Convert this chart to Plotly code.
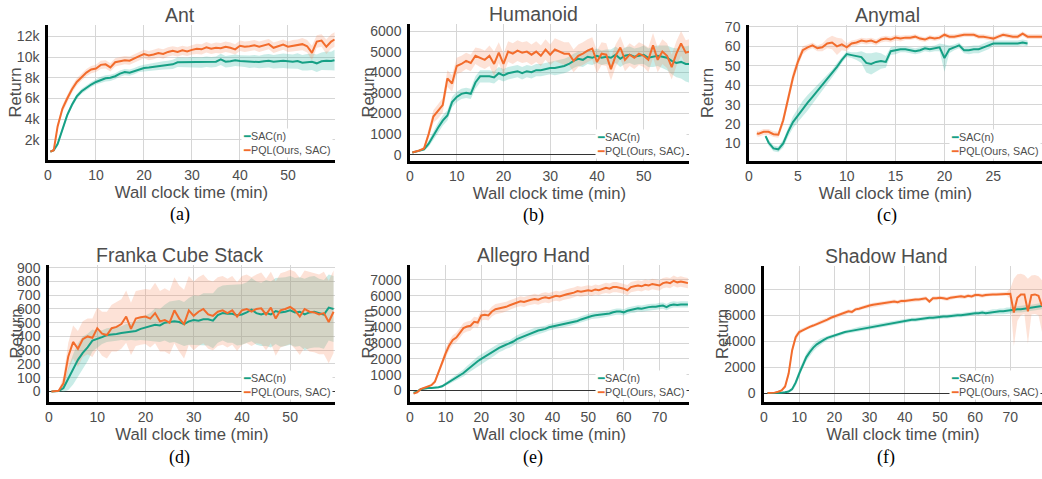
import plotly.graph_objects as go

W, H = 1042, 479
SAC_COLOR = '#16a085'
PQL_COLOR = '#f26c2c'
SAC_FILL = 'rgba(40,178,158,0.25)'
PQL_FILL = 'rgba(248,140,95,0.25)'
TEXT = '#4d4d4d'
FONT = 'Liberation Sans, Arial, sans-serif'

series_names = ['SAC(n)', 'PQL(Ours, SAC)']
panel_titles = ['Ant', 'Humanoid', 'Anymal', 'Franka Cube Stack', 'Allegro Hand', 'Shadow Hand']
captions = ['(a)', '(b)', '(c)', '(d)', '(e)', '(f)']

# ---- Ant ----
ant_t = [0.5, 1.2, 2, 3, 4, 5, 6, 7, 8, 9, 10,
         11, 12, 13, 14, 15, 16, 17, 18, 19, 20,
         21, 22, 23, 24, 25, 26, 27, 28, 29, 30,
         31, 32, 33, 34, 35, 36, 37, 38, 39, 40,
         41, 42, 43, 44, 45, 46, 47, 48, 49, 50,
         51, 52, 53, 54, 55, 56, 57, 58, 59, 59.7]
ant_sac = [870, 1000, 1600, 3100, 4400, 5400, 6200, 6700, 7050, 7350, 7600,
           7800, 7950, 8000, 8150, 8400, 8550, 8500, 8650, 8850, 8950,
           9000, 9050, 9150, 9200, 9250, 9300, 9500, 9500, 9480, 9520,
           9500, 9480, 9550, 9500, 9550, 9780, 9550, 9600, 9700, 9620,
           9600, 9550, 9600, 9520, 9600, 9650, 9560, 9600, 9650, 9600,
           9550, 9620, 9450, 9500, 9550, 9400, 9600, 9650, 9620, 9700]
ant_sac_sd = [100, 120, 200, 250, 250, 250, 250, 250, 250, 250, 250,
              300, 300, 300, 300, 300, 300, 300, 300, 300, 300,
              350, 350, 400, 400, 400, 450, 450, 450, 450, 500,
              500, 500, 500, 500, 500, 550, 550, 550, 550, 550,
              550, 600, 600, 600, 650, 650, 650, 700, 700, 700,
              700, 750, 750, 800, 800, 850, 850, 900, 900, 1000]
ant_pql = [870, 1000, 3300, 5000, 6000, 6900, 7600, 8100, 8500, 8800, 8900,
           9250, 9300, 9000, 9500, 9600, 9700, 9650, 9900, 10100, 10300,
           10150, 10250, 10400, 10300, 10500, 10600, 10500, 10650, 10550, 10700,
           10800, 10750, 10950, 10800, 10900, 10850, 11000, 10900, 10750, 11100,
           11000, 11050, 11150, 11000, 11100, 11250, 10900, 11050, 11200, 11000,
           11100, 11150, 11250, 11050, 10400, 11500, 11600, 11000, 11500, 11700]
ant_pql_sd = [100, 120, 300, 350, 350, 350, 350, 350, 350, 350, 350,
              400, 400, 400, 400, 400, 400, 400, 400, 400, 400,
              450, 450, 450, 450, 450, 450, 450, 450, 450, 450,
              500, 500, 500, 500, 500, 500, 500, 500, 500, 500,
              500, 500, 500, 500, 500, 500, 500, 500, 500, 500,
              550, 550, 600, 600, 700, 600, 600, 700, 700, 700]

# ---- Humanoid ----
hum_t = [0.5, 1, 2, 3, 4, 5, 6, 7, 8, 9, 10,
         11, 12, 13, 14, 15, 16, 17, 18, 19, 20,
         21, 22, 23, 24, 25, 26, 27, 28, 29, 30,
         31, 32, 33, 34, 35, 36, 37, 38, 39, 40,
         41, 42, 43, 44, 45, 46, 47, 48, 49, 50,
         51, 52, 53, 54, 55, 56, 57, 58, 59, 59.7]
hum_sac = [100, 130, 180, 250, 530, 940, 1300, 1650, 1900, 2550, 2800,
           2950, 3000, 2950, 3500, 3800, 3800, 3800, 3750, 3950, 3850,
           3950, 4000, 4050, 3950, 4050, 4000, 4100, 4100, 4150, 4200,
           4200, 4250, 4300, 4400, 4550, 4650, 4600, 4750, 4700, 4800,
           4700, 4750, 4700, 4850, 4650, 4800, 4850, 4750, 4800, 4850,
           4700, 4750, 4800, 4750, 4700, 4550, 4450, 4500, 4400, 4400]
hum_sac_sd = [30, 30, 40, 60, 150, 200, 250, 250, 250, 250, 250,
              250, 250, 250, 300, 300, 300, 300, 300, 300, 300,
              300, 300, 300, 300, 300, 300, 300, 300, 300, 300,
              350, 350, 350, 350, 350, 350, 350, 350, 350, 350,
              350, 350, 400, 400, 400, 400, 400, 400, 400, 450,
              450, 500, 500, 550, 600, 650, 700, 800, 850, 900]
hum_pql = [100, 130, 200, 300, 1000, 1850, 2100, 2400, 3700, 3450, 4300,
           4400, 4550, 4450, 4800, 4700, 4600, 4800, 4400, 4950, 4400,
           5000, 4900, 5050, 4950, 5000, 4850, 5000, 4800, 5100, 4850,
           5100, 5000, 4900, 4900, 4550, 4800, 4900, 5050, 5150, 4500,
           4900, 4850, 4150, 4800, 5200, 4600, 4850, 4700, 4900, 4800,
           4600, 5300, 4600, 5000, 4800, 4250, 4900, 5400, 4950, 5000]
hum_pql_sd = [30, 30, 40, 80, 200, 300, 350, 350, 400, 400, 400,
              400, 400, 400, 400, 450, 450, 500, 600, 500, 500,
              500, 500, 500, 500, 500, 500, 500, 500, 500, 500,
              550, 550, 550, 550, 550, 550, 550, 550, 550, 550,
              550, 550, 550, 550, 550, 550, 550, 550, 550, 550,
              600, 600, 600, 600, 600, 600, 600, 600, 600, 600]

# ---- Anymal ----
any_pql_t = [0.8, 1.0, 1.5, 2.0, 2.5, 3.0, 3.5, 4.0, 4.5, 5.0, 5.5,
             6.0, 6.5, 7.0, 7.5, 8.0, 8.5, 9.0, 9.5, 10.0, 10.5,
             11.0, 11.5, 12.0, 12.5, 13.0, 13.5, 14.0, 14.5, 15.0, 15.5,
             16.0, 16.5, 17.0, 17.5, 18.0, 18.5, 19.0, 19.5, 20.0, 20.5,
             21.0, 21.5, 22.0, 22.5, 23.0, 23.5, 24.0, 24.5, 25.0, 25.5,
             26.0, 26.5, 27.0, 27.5, 28.0, 28.5, 29.0, 29.5, 30.0]
any_pql = [15.2, 15.0, 16.0, 16.0, 14.8, 14.5, 22, 33, 44, 52, 58,
           59.5, 60.5, 59, 59.5, 61.5, 62, 60, 61, 59.5, 61.5,
           62, 63, 62.5, 63, 62, 63.5, 64, 63.5, 64.5, 64,
           64.5, 64.5, 65, 64, 63.5, 64.5, 64, 64.5, 66, 65,
           65, 65.5, 66, 66, 66, 65, 65, 64.5, 64, 65,
           66, 65.5, 65, 65, 66.5, 65, 65, 65, 65]
any_pql_sd = [1.5, 1.5, 1.5, 1.5, 1.5, 1.5, 2.5, 3, 3, 2.5, 2,
              1.5, 1.5, 1.5, 2, 2.5, 3.5, 4.5, 3, 2, 1.5,
              1.5, 1.5, 1.5, 1.5, 1.5, 1.5, 1.5, 1.5, 1.5, 1.5,
              1.2, 1.2, 1.2, 1.2, 1.2, 1.2, 1.2, 1.2, 1.2, 1.2,
              1.2, 1.2, 1.2, 1.2, 1.2, 1.2, 1.2, 1.2, 1.2, 1.2,
              1.2, 1.2, 1.2, 1.2, 1.2, 1.2, 1.2, 1.2, 1.2]
any_sac_t = [1.7, 2.0, 2.5, 3.0, 3.5, 4.0, 4.5, 5.0, 5.5, 6.0, 6.5,
             7.0, 7.5, 8.0, 8.5, 9.0, 9.5, 10.0, 10.5, 11.0, 11.5,
             12.0, 12.5, 13.0, 13.5, 14.0, 14.5, 15.0, 15.5, 16.0, 16.5,
             17.0, 17.5, 18.0, 18.5, 19.0, 19.5, 20.0, 20.5, 21.0, 21.5,
             22.0, 22.5, 23.0, 23.5, 24.0, 24.5, 25.0, 25.5, 26.0, 26.5,
             27.0, 27.5, 28.0, 28.5]
any_sac = [13.8, 10.5, 7.5, 7.0, 10, 16, 21, 24.5, 28, 31, 34,
           37, 40, 43, 46, 49.5, 53, 56, 55.5, 55, 54.5,
           51.5, 51, 52, 52.5, 52, 57.5, 58, 58.5, 58.5, 58,
           57.5, 58, 59, 58.5, 59, 59.5, 54, 58.5, 59.5, 60.5,
           58, 58, 58.5, 58.5, 59.5, 60.5, 61.5, 61.5, 61.5, 61.5,
           61.5, 61.5, 62, 61.5]
any_sac_sd = [1, 1.5, 1.5, 1.5, 2, 2.5, 3, 3.5, 4, 4, 3.5,
              3, 3, 2.5, 2, 2, 1.5, 1.5, 1.5, 2, 3,
              5, 5.5, 5, 4, 3, 2, 2, 1.5, 1.5, 1.5,
              1.5, 1.5, 1.5, 1.5, 1.5, 2, 7, 2, 1.5, 1.5,
              1.5, 2, 2, 2, 2, 2, 1.5, 1.5, 1.5, 1.5,
              1.5, 1.5, 1.5, 1.5]

# ---- Franka Cube Stack ----
fra_t = [0.5, 1, 2, 3, 4, 5, 6, 7, 8, 9, 10,
         11, 12, 13, 14, 15, 16, 17, 18, 19, 20,
         21, 22, 23, 24, 25, 26, 27, 28, 29, 30,
         31, 32, 33, 34, 35, 36, 37, 38, 39, 40,
         41, 42, 43, 44, 45, 46, 47, 48, 49, 50,
         51, 52, 53, 54, 55, 56, 57, 58, 59]
fra_sac = [0, 0, 3, 25, 90, 160, 230, 280, 320, 370, 380,
           395, 410, 412, 418, 425, 430, 435, 440, 455, 465,
           470, 485, 480, 500, 505, 510, 505, 490, 510, 520,
           515, 525, 525, 515, 555, 570, 565, 565, 555, 560,
           575, 595, 570, 560, 570, 560, 585, 575, 580, 590,
           575, 580, 560, 575, 580, 570, 560, 610, 600]
fra_sac_sd = [0, 0, 5, 30, 80, 110, 120, 120, 100, 80, 60,
              50, 50, 50, 50, 50, 60, 60, 70, 80, 90,
              100, 120, 120, 130, 150, 150, 160, 160, 170, 180,
              180, 190, 190, 200, 200, 200, 210, 210, 220, 220,
              220, 230, 230, 230, 240, 240, 240, 250, 250, 250,
              250, 250, 260, 260, 260, 250, 250, 240, 240]
fra_pql = [0, 0, 5, 60, 255, 360, 310, 380, 400, 390, 460,
           420, 410, 460, 470, 490, 545, 455, 530, 540, 545,
           530, 570, 510, 520, 500, 590, 530, 490, 590, 550,
           580, 600, 560, 550, 580, 590, 570, 590, 545, 590,
           600, 580, 600, 605, 560, 610, 530, 590, 600, 615,
           590, 545, 600, 580, 575, 560, 570, 505, 580]
fra_pql_sd = [0, 0, 5, 50, 100, 120, 130, 130, 130, 140, 150,
              160, 170, 170, 180, 180, 190, 190, 200, 200, 200,
              210, 220, 220, 230, 230, 240, 240, 250, 250, 250,
              250, 250, 250, 250, 250, 250, 250, 250, 250, 250,
              250, 250, 250, 260, 260, 260, 270, 270, 270, 270,
              280, 280, 280, 290, 290, 290, 300, 300, 300]

# ---- Allegro Hand ----
all_t = list(range(1, 79))
all_sac = [-150, -80, 80, 130, 150, 160, 170, 200, 260, 400,
           520, 650, 800, 950, 1100, 1300, 1500, 1650, 1850, 2000,
           2150, 2300, 2400, 2550, 2700, 2800, 2900, 2950, 3100, 3250,
           3350, 3450, 3550, 3650, 3750, 3800, 3850, 3900, 4000, 4050,
           4100, 4150, 4200, 4250, 4300, 4350, 4400, 4500, 4580, 4650,
           4720, 4760, 4780, 4800, 4850, 4880, 4950, 5000, 5000, 4950,
           5050, 5100, 5120, 5200, 5180, 5250, 5280, 5300, 5300, 5350,
           5380, 5280, 5400, 5450, 5420, 5450, 5450, 5450]
all_sac_sd = [30, 30, 40, 40, 40, 40, 50, 60, 80, 100,
              120, 150, 180, 200, 220, 250, 280, 300, 300, 300,
              300, 300, 300, 300, 280, 280, 260, 250, 250, 250,
              240, 240, 230, 230, 220, 220, 220, 200, 200, 200,
              200, 200, 200, 200, 200, 200, 200, 200, 200, 200,
              200, 200, 200, 200, 200, 200, 200, 200, 200, 200,
              200, 200, 200, 200, 200, 200, 200, 200, 200, 200,
              200, 200, 200, 200, 200, 200, 200, 200]
all_pql = [-200, -120, 80, 150, 230, 330, 560, 1100, 1750, 2350,
           2850, 3200, 3350, 3650, 3950, 4050, 4100, 4350, 4300, 4750,
           4800, 4750, 5000, 5150, 5200, 5250, 5300, 5400, 5500, 5600,
           5650, 5600, 5700, 5750, 5800, 5750, 5850, 5900, 5850, 5950,
           6000, 5950, 6050, 6100, 6150, 6200, 6300, 6250, 6300, 6350,
           6300, 6400, 6350, 6450, 6500, 6450, 6550, 6550, 6500, 6450,
           6350, 6550, 6600, 6650, 6600, 6700, 6650, 6750, 6700, 6650,
           6800, 6850, 6800, 6950, 6850, 6900, 6850, 6800]
all_pql_sd = [30, 30, 40, 50, 60, 80, 120, 200, 250, 300,
              300, 300, 300, 300, 320, 320, 320, 320, 320, 320,
              320, 320, 320, 320, 320, 320, 320, 320, 320, 320,
              320, 320, 320, 320, 320, 320, 320, 320, 320, 320,
              320, 320, 320, 320, 320, 320, 320, 320, 320, 320,
              320, 320, 320, 320, 320, 320, 320, 320, 320, 320,
              330, 330, 330, 330, 330, 330, 330, 330, 330, 330,
              330, 330, 330, 330, 330, 330, 330, 330]

# ---- Shadow Hand ----
sha_t = list(range(1, 80))
sha_sac = [0, 0, 0, 10, 30, 60, 120, 300, 800, 1500,
           2200, 2750, 3150, 3500, 3750, 3950, 4100, 4250, 4350, 4400,
           4500, 4600, 4700, 4750, 4800, 4900, 4950, 5000, 5050, 5100,
           5100, 5150, 5200, 5250, 5300, 5400, 5400, 5450, 5500, 5600,
           5600, 5650, 5650, 5700, 5700, 5750, 5800, 5800, 5850, 5850,
           5900, 5900, 5950, 5950, 6000, 6000, 6050, 6100, 6100, 6150,
           6150, 6200, 6150, 6200, 6250, 6250, 6300, 6300, 6350, 6350,
           6400, 6450, 6450, 6500, 6550, 6550, 6600, 6650, 6700]
sha_sac_sd = [10, 10, 10, 20, 30, 50, 80, 150, 250, 300,
              300, 300, 300, 300, 280, 250, 200, 180, 150, 150,
              150, 150, 150, 150, 150, 150, 150, 150, 150, 150,
              150, 150, 150, 150, 150, 150, 150, 150, 150, 150,
              150, 150, 150, 150, 150, 150, 150, 150, 150, 150,
              160, 160, 160, 160, 160, 160, 160, 160, 160, 160,
              180, 180, 180, 200, 200, 200, 220, 220, 250, 250,
              250, 250, 250, 250, 250, 250, 250, 250, 250]
sha_pql = [0, 10, 30, 100, 200, 500, 1500, 3300, 4300, 4700,
           4850, 5000, 5100, 5200, 5300, 5450, 5550, 5650, 5800, 5900,
           5950, 6100, 6150, 6300, 6250, 6450, 6500, 6600, 6650, 6750,
           6800, 6850, 6850, 6900, 6950, 7000, 7050, 7000, 7100, 7100,
           7150, 7150, 7200, 7200, 7250, 7300, 7050, 7300, 7300, 7350,
           7300, 7250, 7350, 7400, 7450, 7450, 7400, 7500, 7450, 7550,
           7550, 7500, 7550, 7600, 7600, 7600, 7600, 7650, 7650, 7650,
           6200, 7350, 7600, 7600, 6300, 7550, 7600, 7500, 6700]
sha_pql_sd = [20, 20, 30, 50, 80, 150, 250, 300, 250, 200,
              150, 150, 150, 150, 150, 150, 150, 150, 150, 150,
              150, 150, 150, 150, 150, 150, 150, 150, 150, 150,
              150, 150, 150, 150, 150, 150, 150, 150, 150, 150,
              150, 150, 150, 150, 150, 150, 150, 150, 150, 150,
              150, 150, 150, 150, 150, 150, 150, 150, 150, 150,
              150, 150, 150, 150, 150, 150, 150, 150, 150, 400,
              2600, 1800, 1600, 1500, 2500, 1500, 1500, 1500, 2000]

# panel layout in window pixels: (left, right, top, bottom)
panels = [
    dict(sac=(ant_t, ant_sac, ant_sac_sd), pql=(ant_t, ant_pql, ant_pql_sd),
         box=(48, 335, 25, 160), xr=[0, 59.8], yr=[60, 13100], xd=10, yd=2000, fmt='~s',
         zero=False, cx=180, leg=241),
    dict(sac=(hum_t, hum_sac, hum_sac_sd), pql=(hum_t, hum_pql, hum_pql_sd),
         box=(410, 689, 24, 161), xr=[0, 59.7], yr=[-310, 6340], xd=10, yd=1000, fmt='d',
         zero=True, cx=533, leg=595),
    dict(sac=(any_sac_t, any_sac, any_sac_sd), pql=(any_pql_t, any_pql, any_pql_sd),
         box=(749, 1042, 25, 161), xr=[0, 29.98], yr=[1, 71], xd=5, yd=10, fmt='d',
         zero=False, cx=887, leg=949),
    dict(sac=(fra_t, fra_sac, fra_sac_sd), pql=(fra_t, fra_pql, fra_pql_sd),
         box=(49, 335, 265, 402), xr=[0, 59.3], yr=[-77, 920], xd=10, yd=100, fmt='d',
         zero=True, cx=179, leg=241),
    dict(sac=(all_t, all_sac, all_sac_sd), pql=(all_t, all_pql, all_pql_sd),
         box=(410, 689, 265, 402), xr=[0, 78.3], yr=[-734, 7950], xd=10, yd=1000, fmt='d',
         zero=True, cx=533, leg=595),
    dict(sac=(sha_t, sha_sac, sha_sac_sd), pql=(sha_t, sha_pql, sha_pql_sd),
         box=(764, 1042, 266, 402), xr=[0, 79], yr=[-692, 9790], xd=10, yd=2000, fmt='d',
         zero=True, cx=886, leg=949),
]


def px(x):
    return x / W


def py(y):
    return 1 - y / H


fig = go.Figure()
annotations = []
layout = {}

for i, p in enumerate(panels):
    n = '' if i == 0 else str(i + 1)
    xa, ya = 'x' + n, 'y' + n
    l, r, t, b = p['box']

    for (tt, mean, sd), fill in ((p['sac'], SAC_FILL), (p['pql'], PQL_FILL)):
        if not (len(tt) == len(mean) == len(sd)):
            raise ValueError(f'length mismatch in panel {i}')
        upper = [m + s for m, s in zip(mean, sd)]
        lower = [m - s for m, s in zip(mean, sd)]
        fig.add_trace(go.Scatter(x=list(tt) + list(tt)[::-1], y=upper + lower[::-1],
                                 fill='toself', fillcolor=fill, line=dict(width=0),
                                 mode='lines', hoverinfo='skip', showlegend=False,
                                 xaxis=xa, yaxis=ya))
    for (tt, mean, sd), color, name in ((p['sac'], SAC_COLOR, series_names[0]),
                                        (p['pql'], PQL_COLOR, series_names[1])):
        fig.add_trace(go.Scatter(x=tt, y=mean, mode='lines', name=name,
                                 line=dict(color=color, width=2), showlegend=False,
                                 xaxis=xa, yaxis=ya))

    layout['xaxis' + n] = dict(
        domain=[px(l), min(px(r), 1)], anchor=ya, range=p['xr'], dtick=p['xd'], tick0=0,
        automargin=False,
        showline=True, linecolor='black', linewidth=2.5,
        showgrid=True, gridcolor='#d6d6d6', gridwidth=1.3, zeroline=False,
        ticks='', ticklen=0, tickfont=dict(family=FONT, size=14, color=TEXT),
        title=dict(text='Wall clock time (min)', standoff=0,
                   font=dict(family=FONT, size=16.7, color=TEXT)))
    layout['yaxis' + n] = dict(
        domain=[py(b), py(t)], anchor=xa, range=p['yr'], dtick=p['yd'], tick0=0,
        tickformat=p['fmt'], automargin=False,
        showline=True, linecolor='black', linewidth=2.5,
        showgrid=True, gridcolor='#d6d6d6', gridwidth=1.3,
        zeroline=p['zero'], zerolinecolor='#333333', zerolinewidth=1,
        ticks='', ticklen=0, ticklabelstandoff=3,
        tickfont=dict(family=FONT, size=14, color=TEXT))

    # title, caption, y label
    annotations.append(dict(text=panel_titles[i], x=px(p['cx']), y=py(t - 10), xref='paper',
                            yref='paper', xanchor='center', yanchor='middle', showarrow=False,
                            font=dict(family=FONT, size=19.5, color=TEXT)))
    annotations.append(dict(text=captions[i], x=px(p['cx']), y=py(b + 55), xref='paper',
                            yref='paper', xanchor='center', yanchor='middle', showarrow=False,
                            font=dict(family='Liberation Serif, Times New Roman, serif',
                                      size=18, color='black')))
    annotations.append(dict(text='Return', x=px(l - 33 if i in (0, 3) else l - 42),
                            y=py((t + b) / 2), xref='paper', yref='paper',
                            xanchor='center', yanchor='middle', textangle=-90, showarrow=False,
                            font=dict(family=FONT, size=16.7, color=TEXT)))
    # legend box
    leg_text = (f"<span style='color:{SAC_COLOR}'>━</span>{series_names[0]}<br>"
                f"<span style='color:{PQL_COLOR}'>━</span>{series_names[1]}")
    annotations.append(dict(text=leg_text, x=px(p['leg']), y=py(b - 2), xref='paper',
                            yref='paper', xanchor='left', yanchor='bottom', align='left',
                            showarrow=False, bgcolor='white', borderpad=1,
                            font=dict(family=FONT, size=10.7, color=TEXT)))

fig.update_layout(width=W, height=H, autosize=False,
                  margin=dict(l=0, r=0, t=0, b=0),
                  paper_bgcolor='white', plot_bgcolor='white',
                  showlegend=False, annotations=annotations, **layout)
# the page body has a default 8px margin; drop it so the figure sits at the window corner
fig.write_html("out.html", config={'displayModeBar': False},
               post_script="document.body.style.margin='0px';")
